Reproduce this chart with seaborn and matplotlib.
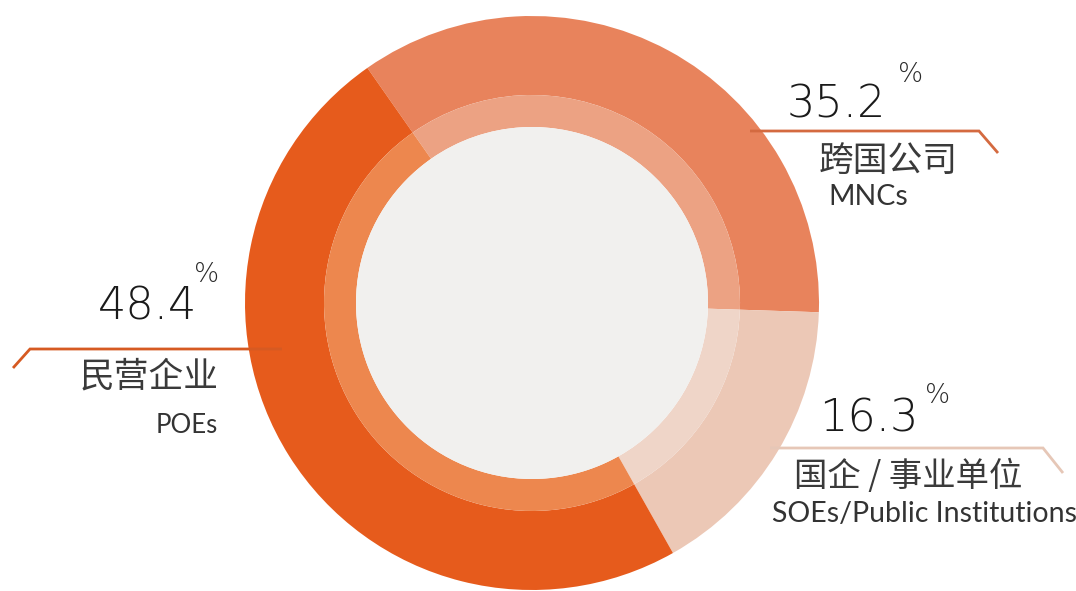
import matplotlib
matplotlib.use("Agg")
import matplotlib.pyplot as plt
import seaborn as sns

# Employer type shares (%)
labels_cn = ["跨国公司", "国企 / 事业单位", "民营企业"]
labels_en = ["MNCs", "SOEs/Public Institutions", "POEs"]
shares = [35.2, 16.3, 48.4]

outer_colors = ["#E8835C", "#ECC8B6", "#E65B1C"]
inner_colors = ["#ECA283", "#EFD5C8", "#ED874E"]
line_colors = ["#D46A40", "#E6C7B7", "#D65A22"]

sns.set_theme(style="white")
plt.rcParams["font.family"] = ["Lato", "Noto Sans CJK SC", "DejaVu Sans"]

W, H = 1076, 591
fig = plt.figure(figsize=(W / 100, H / 100), dpi=100)
ax = fig.add_axes([0, 0, 1, 1])


def Y(py):
    # pixel row (top-down) -> data y (bottom-up)
    return H - py


cx, cy = 532, Y(303)
r_out, r_mid, r_in = 287, 208, 176

ax.pie(shares, colors=outer_colors, startangle=125, counterclock=False,
       radius=r_out, center=(cx, cy),
       wedgeprops=dict(width=r_out - r_mid, linewidth=0))
ax.pie(shares, colors=inner_colors, startangle=125, counterclock=False,
       radius=r_mid, center=(cx, cy),
       wedgeprops=dict(width=r_mid - r_in, linewidth=0))
ax.add_patch(plt.Circle((cx, cy), r_in, color="#F1F0EE", lw=0, zorder=3))

ax.set_xlim(0, W)
ax.set_ylim(0, H)
ax.set_aspect("equal", adjustable="box")
ax.axis("off")

# Leader lines: (x points, y rows)
leaders = [
    ([750, 979, 998], [131, 131, 153]),
    ([770, 1043, 1063], [448, 448, 473]),
    ([282, 30, 13], [349, 349, 368]),
]
for (xs, ys), c in zip(leaders, line_colors):
    ax.plot(xs, [Y(v) for v in ys], color=c, lw=2.0, solid_capstyle="butt",
            solid_joinstyle="miter", zorder=5)

num_kw = dict(family=["DejaVu Sans"], fontsize=32, fontweight="light",
              color="#1A1A1A", zorder=6)
pct_kw = dict(family=["DejaVu Sans"], fontsize=19, fontweight="light",
              color="#2A2A2A", zorder=6)
cn_kw = dict(family=["Noto Sans CJK SC", "DejaVu Sans"], color="#3A3A3A", zorder=6)
en_kw = dict(color="#333333", zorder=6)

# MNCs
ax.text(787, Y(118), f"{shares[0]:.1f}", ha="left", va="baseline", **num_kw)
ax.text(898, Y(82), "%", ha="left", va="baseline", **pct_kw)
ax.text(819, Y(162), labels_cn[0], ha="left", va="center", fontsize=25, **cn_kw)
ax.text(828, Y(205), labels_en[0], ha="left", va="baseline", fontsize=20.5, **en_kw)

# SOEs / public institutions
ax.text(819, Y(431), f"{shares[1]:.1f}", ha="left", va="baseline", **num_kw)
ax.text(925, Y(403), "%", ha="left", va="baseline", **pct_kw)
ax.text(794, Y(477), labels_cn[1], ha="left", va="center", fontsize=24, **cn_kw)
ax.text(772, Y(522), labels_en[1], ha="left", va="baseline", fontsize=20.5, **en_kw)

# POEs
ax.text(197, Y(320), f"{shares[2]:.1f}", ha="right", va="baseline", **num_kw)
ax.text(194, Y(282), "%", ha="left", va="baseline", **pct_kw)
ax.text(219, Y(377), labels_cn[2], ha="right", va="center", fontsize=25, **cn_kw)
ax.text(218, Y(433), labels_en[2], ha="right", va="baseline", fontsize=18.5, **en_kw)

fig.savefig("out.png", dpi=100, facecolor="white")
